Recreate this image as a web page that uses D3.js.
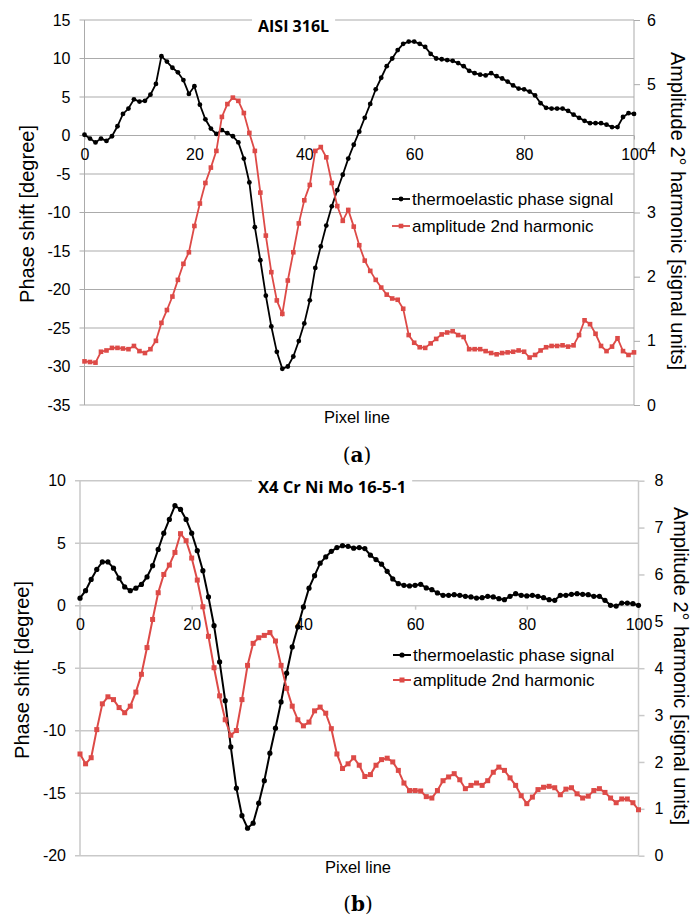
<!DOCTYPE html>
<html>
<head>
<meta charset="utf-8">
<script src="https://cdn.jsdelivr.net/npm/d3@7"></script>
<style>
body { margin: 0; background: #fff; }
svg text { font-family: "Liberation Sans", Arial, sans-serif; fill: #000; }
</style>
</head>
<body>
<svg id="chart" width="692" height="921"></svg>
<script>
// x categories: pixel line index 0..100
var pixelLine = d3.range(0, 101);
var xTicks = [0, 20, 40, 60, 80, 100];

// (a) AISI 316L
var phaseA = [0.1, -0.4, -0.9, -0.4, -0.7, -0.1, 1.2, 2.8, 3.5, 4.7,
  4.4, 4.5, 5.3, 6.7, 10.3, 9.6, 8.8, 8.2, 7.2, 5.4,
  6.4, 4.0, 2.1, 0.9, 0.2, 0.7, 0.3, -0.1, -0.9, -3.0,
  -6.1, -11.9, -16.2, -20.8, -24.8, -28.1, -30.3, -30.0, -28.7, -26.7,
  -24.4, -21.4, -17.2, -14.4, -11.7, -9.2, -7.1, -5.1, -3.0, -1.2,
  0.5, 2.3, 4.1, 6.0, 7.5, 9.0, 10.0, 11.1, 11.9, 12.2,
  12.2, 11.9, 11.5, 10.6, 10.0, 9.9, 9.8, 9.7, 9.4, 9.0,
  8.4, 8.1, 7.9, 7.8, 8.1, 7.7, 7.4, 7.0, 6.5, 6.1,
  6.0, 5.7, 5.2, 4.2, 3.6, 3.5, 3.5, 3.5, 3.2, 2.7,
  2.3, 1.9, 1.6, 1.6, 1.6, 1.4, 1.1, 1.1, 2.4, 2.9,
  2.8];
var ampA = [0.68, 0.67, 0.66, 0.83, 0.85, 0.89, 0.89, 0.88, 0.87, 0.92,
  0.84, 0.81, 0.87, 1.00, 1.28, 1.48, 1.69, 1.95, 2.20, 2.38,
  2.79, 3.14, 3.46, 3.70, 3.96, 4.49, 4.69, 4.79, 4.74, 4.55,
  4.24, 3.96, 3.31, 2.64, 2.07, 1.63, 1.42, 1.94, 2.38, 2.83,
  3.19, 3.43, 3.96, 4.02, 3.86, 3.46, 3.10, 2.87, 3.04, 2.78,
  2.49, 2.25, 2.09, 1.95, 1.83, 1.72, 1.66, 1.64, 1.50, 1.09,
  0.97, 0.90, 0.89, 0.96, 1.03, 1.10, 1.13, 1.15, 1.09, 1.06,
  0.87, 0.87, 0.87, 0.84, 0.81, 0.79, 0.81, 0.82, 0.83, 0.85,
  0.83, 0.74, 0.78, 0.85, 0.90, 0.92, 0.92, 0.93, 0.91, 0.93,
  1.09, 1.32, 1.26, 1.11, 0.92, 0.84, 0.91, 1.04, 0.84, 0.78,
  0.82];
var leftTicksA = [-35, -30, -25, -20, -15, -10, -5, 0, 5, 10, 15];
var rightTicksA = [0, 1, 2, 3, 4, 5, 6];

// (b) X4 Cr Ni Mo 16-5-1
var phaseB = [0.6, 1.2, 2.1, 2.9, 3.5, 3.5, 3.0, 2.2, 1.5, 1.2,
  1.4, 1.7, 2.3, 3.2, 4.5, 5.8, 6.9, 8.0, 7.7, 6.9,
  5.8, 4.4, 2.8, 0.7, -1.6, -4.5, -7.6, -11.3, -14.6, -16.8,
  -17.8, -17.4, -15.8, -14.0, -11.8, -9.8, -7.7, -5.4, -3.3, -1.7,
  -0.1, 1.4, 2.4, 3.4, 3.9, 4.35, 4.65, 4.8, 4.75, 4.6,
  4.65, 4.57, 4.04, 3.69, 3.32, 2.75, 2.14, 1.76, 1.63, 1.58,
  1.63, 1.71, 1.42, 1.28, 1.02, 0.83, 0.83, 0.88, 0.83, 0.75,
  0.70, 0.61, 0.64, 0.75, 0.70, 0.56, 0.48, 0.75, 0.96, 0.83,
  0.78, 0.83, 0.75, 0.64, 0.48, 0.43, 0.83, 0.83, 0.91, 0.96,
  0.91, 0.88, 0.75, 0.75, 0.43, 0.03, -0.03, 0.21, 0.21, 0.16,
  0.03];
var ampB = [2.17, 1.96, 2.09, 2.69, 3.24, 3.39, 3.33, 3.16, 3.05, 3.19,
  3.49, 3.87, 4.44, 5.04, 5.61, 6.00, 6.20, 6.47, 6.87, 6.72,
  6.35, 5.88, 5.31, 4.68, 4.01, 3.41, 2.90, 2.57, 2.67, 3.33,
  4.06, 4.53, 4.65, 4.70, 4.76, 4.58, 4.06, 3.57, 3.19, 2.90,
  2.77, 2.85, 3.09, 3.17, 3.04, 2.71, 2.17, 1.86, 1.96, 2.09,
  1.93, 1.69, 1.73, 1.93, 2.05, 2.08, 2.00, 1.82, 1.55, 1.39,
  1.39, 1.38, 1.26, 1.23, 1.39, 1.60, 1.68, 1.75, 1.62, 1.43,
  1.50, 1.55, 1.50, 1.60, 1.78, 1.89, 1.82, 1.66, 1.50, 1.28,
  1.11, 1.25, 1.41, 1.46, 1.48, 1.45, 1.30, 1.42, 1.45, 1.32,
  1.23, 1.27, 1.39, 1.43, 1.35, 1.23, 1.13, 1.21, 1.21, 1.13,
  0.98];
var leftTicksB = [-20, -15, -10, -5, 0, 5, 10];
var rightTicksB = [0, 1, 2, 3, 4, 5, 6, 7, 8];

var seriesNames = ['thermoelastic phase signal', 'amplitude 2nd harmonic'];
var red = '#dd4a47';

var svg = d3.select('#chart');

function drawPanel(o) {
  var g = svg.append('g');
  var x = d3.scaleLinear().domain([0, 100]).range([o.left, o.right]);
  var yL = d3.scaleLinear().domain(o.leftDomain).range([o.bottom, o.top]);
  var yR = d3.scaleLinear().domain(o.rightDomain).range([o.bottom, o.top]);
  var fmt = d => String(d);

  // horizontal gridlines (these also carry the left tick marks)
  g.selectAll('line.grid').data(o.leftTicks).enter().append('line')
    .attr('x1', o.left - 5).attr('x2', o.right)
    .attr('y1', d => yL(d)).attr('y2', d => yL(d))
    .attr('stroke', o.grid).attr('stroke-width', o.gridW);

  // vertical axis lines
  g.append('line').attr('x1', o.left).attr('x2', o.left)
    .attr('y1', o.top).attr('y2', o.bottom)
    .attr('stroke', o.grid).attr('stroke-width', o.gridW);
  g.append('line').attr('x1', o.right).attr('x2', o.right)
    .attr('y1', o.top).attr('y2', o.bottom)
    .attr('stroke', o.grid).attr('stroke-width', o.gridW);

  // left labels
  var la = g.append('g').attr('transform', 'translate(' + o.left + ',0)')
    .call(d3.axisLeft(yL).tickValues(o.leftTicks).tickFormat(fmt).tickSize(0).tickPadding(o.leftPad));
  la.select('.domain').remove();

  // right axis
  var ra = g.append('g').attr('transform', 'translate(' + o.right + ',0)')
    .call(d3.axisRight(yR).tickValues(o.rightTicks).tickFormat(fmt).tickSize(6).tickPadding(o.rightPad));
  ra.select('.domain').remove();
  ra.selectAll('line').attr('stroke', o.grid).attr('stroke-width', o.gridW);

  // x axis labels at phase = 0
  var xa = g.append('g').attr('transform', 'translate(0,' + yL(0) + ')')
    .call(d3.axisBottom(x).tickValues(xTicks).tickFormat(fmt).tickSize(4).tickPadding(9));
  xa.select('.domain').remove();
  xa.selectAll('line').attr('stroke', o.grid).attr('stroke-width', o.gridW);

  [la, ra, xa].forEach(function (a) {
    a.attr('font-family', null).attr('font-size', 16);
    a.selectAll('text').attr('fill', '#000');
  });

  // title with white backing
  var tt = g.append('text').attr('x', o.titleX).attr('y', o.titleY)
    .style('font-family', '"Open Sans", sans-serif').style('font-weight', 'bold')
    .attr('font-size', o.titleSize).text(o.title);
  var bb = tt.node().getBBox();
  g.insert('rect', () => tt.node()).attr('x', bb.x - 6).attr('y', bb.y - 2)
    .attr('width', bb.width + 12).attr('height', bb.height + 4).attr('fill', '#fff');

  // axis titles
  g.append('text').attr('transform', 'translate(' + o.ltX + ',' + o.ltY + ') rotate(-90)')
    .attr('text-anchor', 'middle').attr('dy', '0.35em').attr('font-size', 20)
    .text('Phase shift [degree]');
  g.append('text').attr('transform', 'translate(' + o.rtX + ',' + o.rtY + ') rotate(90)')
    .attr('text-anchor', 'middle').attr('dy', '0.35em').attr('font-size', 20)
    .text('Amplitude 2\u00b0 harmonic [signal units]');
  g.append('text').attr('x', o.xtX).attr('y', o.xtY).attr('text-anchor', 'middle')
    .attr('font-size', 16.5).text('Pixel line');

  // series
  var lineL = d3.line().x((d, i) => x(pixelLine[i])).y(d => yL(d));
  var lineR = d3.line().x((d, i) => x(pixelLine[i])).y(d => yR(d));

  g.append('path').datum(o.phase).attr('d', lineL)
    .attr('fill', 'none').attr('stroke', '#000').attr('stroke-width', o.lw);
  g.selectAll('circle.ph').data(o.phase).enter().append('circle')
    .attr('cx', (d, i) => x(pixelLine[i])).attr('cy', d => yL(d))
    .attr('r', o.dotR).attr('fill', '#000');

  g.append('path').datum(o.amp).attr('d', lineR)
    .attr('fill', 'none').attr('stroke', red).attr('stroke-width', o.lw);
  g.selectAll('rect.am').data(o.amp).enter().append('rect')
    .attr('x', (d, i) => x(pixelLine[i]) - o.sq / 2).attr('y', d => yR(d) - o.sq / 2)
    .attr('width', o.sq).attr('height', o.sq).attr('fill', red);

  // legend
  var lg = g.append('g');
  seriesNames.forEach(function (name, k) {
    var cy = o.legY[k];
    var col = k === 0 ? '#000' : red;
    lg.append('line').attr('x1', o.legX).attr('x2', o.legX + 18)
      .attr('y1', cy).attr('y2', cy).attr('stroke', col).attr('stroke-width', o.lw);
    if (k === 0) {
      lg.append('circle').attr('cx', o.legX + 9).attr('cy', cy).attr('r', o.dotR).attr('fill', col);
    } else {
      lg.append('rect').attr('x', o.legX + 9 - o.sq / 2).attr('y', cy - o.sq / 2)
        .attr('width', o.sq).attr('height', o.sq).attr('fill', col);
    }
    lg.append('text').attr('x', o.legX + 20).attr('y', cy).attr('dy', '0.35em')
      .attr('font-size', 17).text(name);
  });

  // panel letter
  var pl = g.append('text').attr('x', o.letterX).attr('y', o.letterY)
    .attr('text-anchor', 'middle').attr('font-size', 20)
    .style('font-family', '"DejaVu Serif", serif');
  pl.append('tspan').text('(');
  pl.append('tspan').attr('font-weight', 'bold').text(o.letter);
  pl.append('tspan').text(')');
}

drawPanel({
  left: 84.5, right: 634, top: 20, bottom: 405,
  leftDomain: [-35, 15], rightDomain: [0, 6],
  leftTicks: leftTicksA, rightTicks: rightTicksA,
  leftPad: 14, rightPad: 7,
  grid: '#ababab', gridW: 1,
  phase: phaseA, amp: ampA,
  title: 'AISI 316L', titleX: 258, titleY: 32, titleSize: 16,
  ltX: 27, ltY: 214, rtX: 678, rtY: 211, xtX: 357, xtY: 423,
  legX: 392, legY: [199, 226],
  lw: 1.8, dotR: 2.4, sq: 4.6,
  letter: 'a', letterX: 357, letterY: 462
});

drawPanel({
  left: 80, right: 638.5, top: 480.7, bottom: 855.7,
  leftDomain: [-20, 10], rightDomain: [0, 8],
  leftTicks: leftTicksB, rightTicks: rightTicksB,
  leftPad: 14, rightPad: 10,
  grid: '#c9c9c9', gridW: 1.5,
  phase: phaseB, amp: ampB,
  title: 'X4 Cr Ni Mo 16-5-1', titleX: 258, titleY: 493, titleSize: 16.5,
  ltX: 21.5, ltY: 670, rtX: 681, rtY: 666, xtX: 358, xtY: 873,
  legX: 393, legY: [655, 680],
  lw: 2, dotR: 2.6, sq: 5,
  letter: 'b', letterX: 358, letterY: 911
});
</script>
</body>
</html>
